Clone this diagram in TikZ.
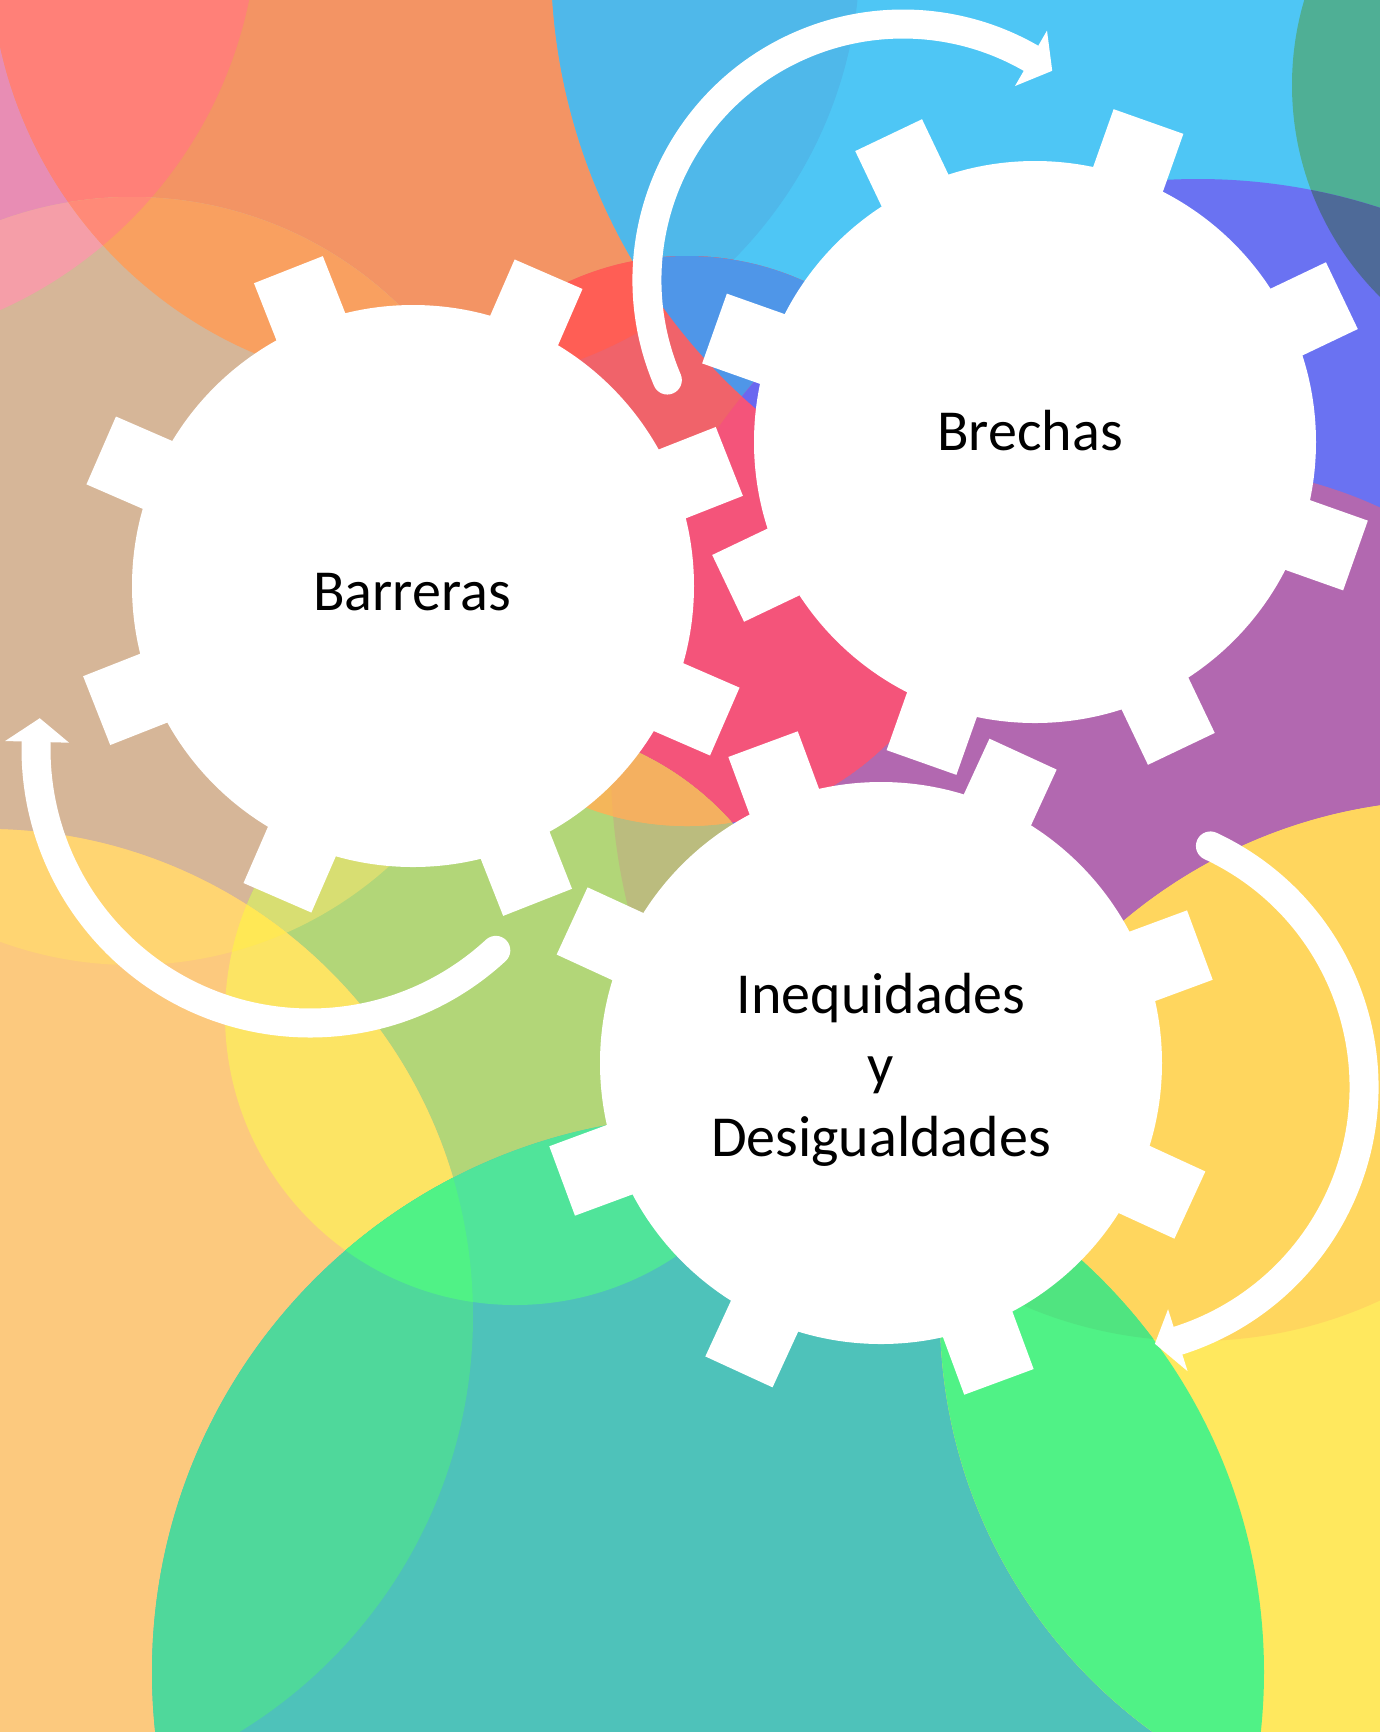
\documentclass[tikz,border=0pt]{standalone}
\usepackage{fontspec}
\setmainfont{Carlito}

% colours of the background circles
\definecolor{bgpink}{HTML}{E88DB4}
\definecolor{bgsalmon}{HTML}{FF8078}
\definecolor{bgorange}{HTML}{F39464}
\definecolor{bglightpink}{HTML}{F59EA8}
\definecolor{bgcoral}{HTML}{FF8A78}
\definecolor{bglightorange}{HTML}{F9A060}
\definecolor{bgbeige}{HTML}{D6B698}
\definecolor{bgblue}{HTML}{4FB8EA}
\definecolor{bgcyan}{HTML}{4EC6F5}
\definecolor{bgsea}{HTML}{4FAF95}
\definecolor{bgslate}{HTML}{4E6A98}
\definecolor{bgviolet}{HTML}{6A72F2}
\definecolor{bgpurple}{HTML}{B268B0}
\definecolor{bgred}{HTML}{FF5E55}
\definecolor{bgmidblue}{HTML}{4F96E8}
\definecolor{bgrose}{HTML}{F0636A}
\definecolor{bgcrimson}{HTML}{F4547A}
\definecolor{bgindigo}{HTML}{6A68F0}
\definecolor{bglime}{HTML}{B2D678}
\definecolor{bgchartreuse}{HTML}{D8DE72}
\definecolor{bgolive}{HTML}{BBBC7E}
\definecolor{bgamber}{HTML}{F4B65A}
\definecolor{bgambertwo}{HTML}{F4B060}
\definecolor{bgpeach}{HTML}{FCC97E}
\definecolor{bggold}{HTML}{FFD572}
\definecolor{bgyellow}{HTML}{FCE464}
\definecolor{bglemon}{HTML}{FFE855}
\definecolor{bgteal}{HTML}{4EC2BA}
\definecolor{bgmint}{HTML}{50E49A}
\definecolor{bgspring}{HTML}{50F286}
\definecolor{bgjade}{HTML}{4FD89B}
\definecolor{bgbutter}{HTML}{FFE85E}
\definecolor{bgsun}{HTML}{FFD65E}
\definecolor{bgleaf}{HTML}{50E480}

% background circles, centre and radius
\newcommand{\cirA}{(-178,-88) circle (436)}
\newcommand{\cirB}{(425,-47) circle (435)}
\newcommand{\cirC}{(132,581) circle (384)}
\newcommand{\cirE}{(1145,-40) circle (594)}
\newcommand{\cirF}{(687,541) circle (285)}
\newcommand{\cirG}{(1591,85) circle (299)}
\newcommand{\cirH}{(1198,766) circle (587)}
\newcommand{\cirI}{(1196,904) circle (437)}
\newcommand{\cirL}{(515,1015) circle (290)}
\newcommand{\cirN}{(-14,1316) circle (487)}
\newcommand{\cirS}{(1455,1315) circle (515)}
\newcommand{\cirT}{(708,1672) circle (556)}

\begin{document}
\begin{tikzpicture}[x=0.01cm,y=-0.01cm,
    cyclearrow/.style={white,line width=0.29cm,line cap=round},
    gearlabel/.style={font=\fontsize{16.5}{20.2}\selectfont,inner sep=0pt}]
    \useasboundingbox (0,0) rectangle (1380,1732);
    \clip (0,0) rectangle (1380,1732);
    % Circles %
    \fill[bgpeach] (0,0) rectangle (1380,1732);
    \fill[bgpink] \cirA;
    \fill[bgorange] \cirB;
    \begin{scope}
        \clip \cirA;
        \fill[bgsalmon] \cirB;
    \end{scope}
    \fill[bgbeige] \cirC;
    \begin{scope}
        \clip \cirC;
        \fill[bglightpink] \cirA;
        \fill[bglightorange] \cirB;
        \clip \cirA;
        \fill[bgcoral] \cirB;
    \end{scope}
    \fill[bgcyan] \cirE;
    \begin{scope}
        \clip \cirE;
        \fill[bgblue] \cirB;
    \end{scope}
    \fill[bgsea] \cirG;
    \fill[bgviolet] \cirH;
    \begin{scope}
        \clip \cirH;
        \fill[bgslate] \cirG;
        \fill[bgpurple] \cirI;
    \end{scope}
    \begin{scope}
        \clip \cirF;
        \fill[bgrose] \cirF;
        \fill[bgred] \cirB;
        \fill[bgmidblue] \cirE;
        \fill[bgcrimson] \cirH;
        \clip \cirE;
        \fill[bgindigo] \cirH;
    \end{scope}
    \fill[bglime] \cirL;
    \begin{scope}
        \clip \cirL;
        \fill[bgchartreuse] \cirC;
        \fill[bgolive] \cirH;
        \clip \cirF;
        \fill[bgamber] \cirF;
        \fill[bgambertwo] \cirH;
    \end{scope}
    \fill[bgpeach] \cirN;
    \begin{scope}
        \clip \cirN;
        \fill[bggold] \cirC;
        \fill[bgyellow] \cirL;
        \clip \cirC;
        \fill[bglemon] \cirL;
    \end{scope}
    \fill[bgteal] \cirT;
    \begin{scope}
        \clip \cirT;
        \fill[bgjade] \cirN;
        \fill[bgmint] \cirL;
        \clip \cirN;
        \fill[bgspring] \cirL;
    \end{scope}
    \fill[bgbutter] \cirS;
    \begin{scope}
        \clip \cirS;
        \fill[bgsun] \cirI;
        \fill[bgspring] \cirT;
        \clip \cirI;
        \fill[bgleaf] \cirT;
    \end{scope}

    % Gears %
    \foreach \gx/\gy/\grot in {413/586/21.5, 1035/442/25.5, 881/1063/20.3}{
        \fill[white] (\gx,\gy) circle (281);
        \foreach \k in {0,...,7}
            \fill[white,shift={(\gx,\gy)},rotate=\grot+45*\k] (250,-37) rectangle (340,37);
    }

    % Arrows %
    \coordinate (turnA) at (903,280);
    \coordinate (turnB) at (1098,1087);
    \coordinate (turnC) at (310,749);
    \draw[cyclearrow] ([shift={(157:256)}]turnA) arc[start angle=157,end angle=300,radius=256];
    \fill[white] ([shift={(300:288)}]turnA) -- ([shift={(305.5:257)}]turnA) -- ([shift={(300:224)}]turnA) -- cycle;
    \draw[cyclearrow] ([shift={(-65:266)}]turnB) arc[start angle=-65,end angle=72.5,radius=266];
    \fill[white] ([shift={(72.5:298)}]turnB) -- ([shift={(77.5:263)}]turnB) -- ([shift={(72.5:233)}]turnB) -- cycle;
    \draw[cyclearrow] ([shift={(47.3:274)}]turnC) arc[start angle=47.3,end angle=181.5,radius=274];
    \fill[white] ([shift={(181.5:305)}]turnC) -- ([shift={(186.5:272)}]turnC) -- ([shift={(181.5:241)}]turnC) -- cycle;

    % Labels %
    \node[gearlabel,anchor=base] (barreras) at (412,610) {Barreras};
    \node[gearlabel,anchor=base] (brechas) at (1030,450) {Brechas};
    \node[gearlabel,anchor=base,align=center] (inequidades) at (881,1156) {Inequidades\\y\\Desigualdades};
\end{tikzpicture}
\end{document}
